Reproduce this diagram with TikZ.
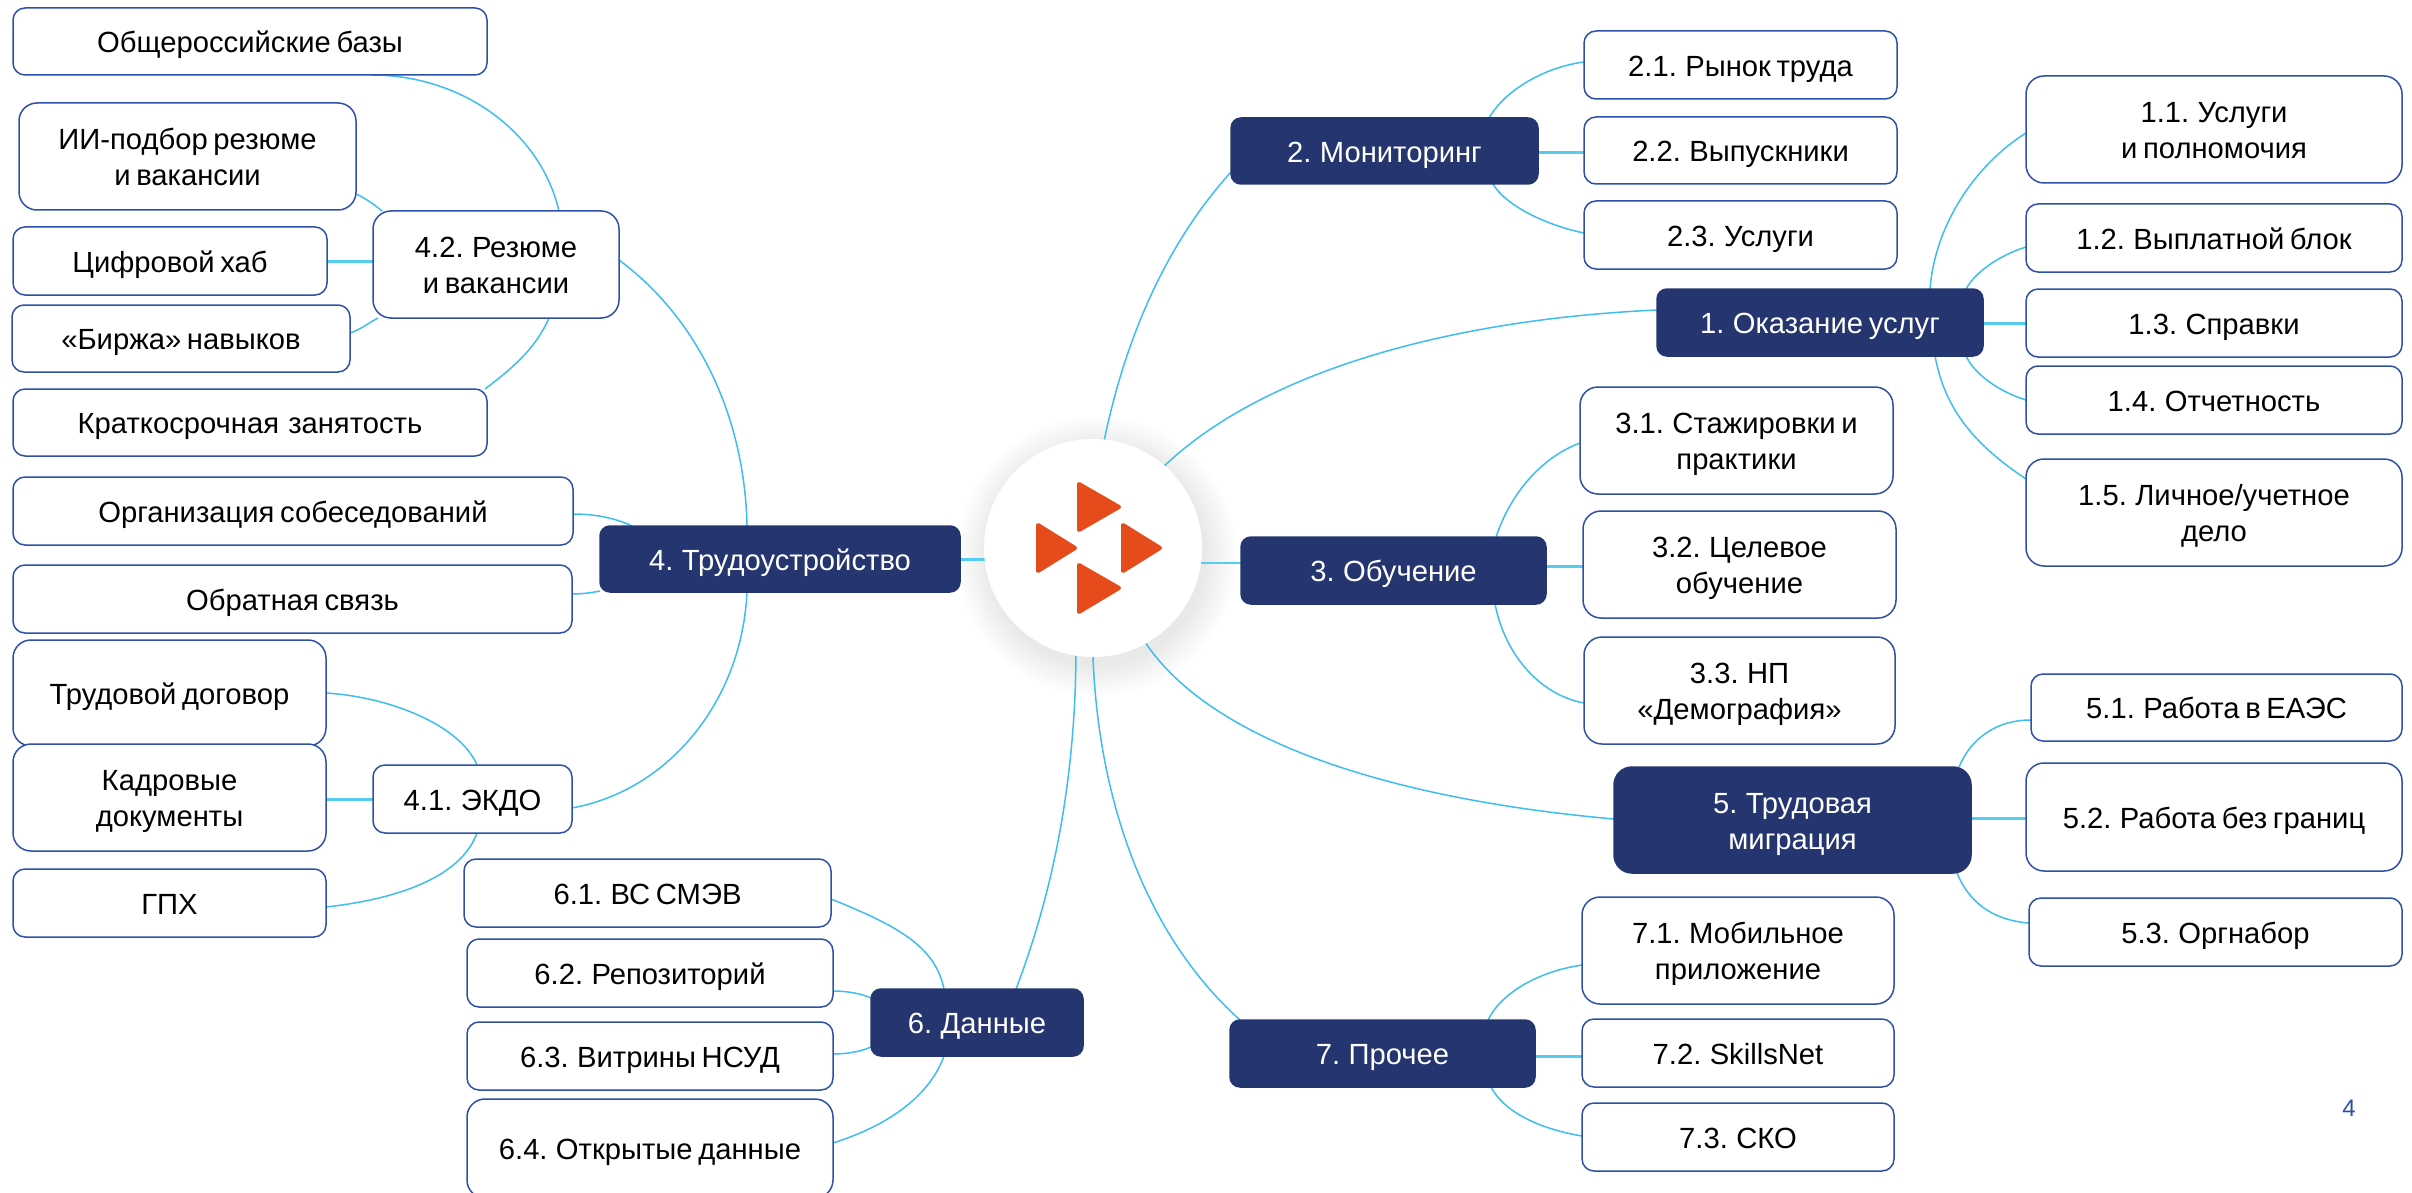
\documentclass[tikz,border=0pt]{standalone}
\usepackage{fontspec}
\setmainfont[WordSpace=0.7]{Liberation Sans}
\usetikzlibrary{backgrounds}
\definecolor{navy}{HTML}{25356F}
\definecolor{edgeblue}{HTML}{2E50A8}
\definecolor{linkblue}{HTML}{3DBDF0}
\definecolor{linkbar}{HTML}{55CDEE}
\definecolor{logored}{HTML}{E54B1B}
\newcommand\bx[7]{\node[#1,minimum width={(#5-#3)*1pt},minimum height={(#6-#4)*1pt}] (#2) at ({(#3+#5)/2},{(#4+#6)/2}) {#7};}
\newcommand\tl{\rule[-6.8pt]{0pt}{36pt}}
\tikzset{
  box/.style={draw=edgeblue,fill=white,line width=1.5pt,rounded corners=12pt,inner sep=0pt,outer sep=0pt,align=center,font=\fontsize{29.2}{36}\selectfont,text=black},
  bigbox/.style={box,rounded corners=18pt},
  dark/.style={box,draw=navy,fill=navy,text=white,rounded corners=10pt},
  bigdark/.style={dark,rounded corners=18pt},
  link/.style={draw=linkblue,line width=1.5pt},
  bar/.style={draw=linkbar,line width=3pt},
  logotri/.style={fill=logored,draw=logored,line width=4pt,line join=round},
}
\begin{document}
\begin{tikzpicture}[x=1pt,y=-1pt]
\useasboundingbox (0,0) rectangle (2412,1193);
\clip (0,0) rectangle (2412,1193);
% hub
\node[circle,fill=white,minimum size=218pt,inner sep=0pt,outer sep=0pt] (hub) at (1093,548) {};
\fill[logotri] (1079,484) -- (1119,507) -- (1079,530) -- cycle;
\fill[logotri] (1038,525) -- (1075,548) -- (1038,571) -- cycle;
\fill[logotri] (1123,525) -- (1160,548) -- (1123,571) -- cycle;
\fill[logotri] (1079,565) -- (1119,588) -- (1079,612) -- cycle;
% left side
\bx{box}{nBases}{13}{8}{487}{75}{\tl Общероссийские базы}
\bx{bigbox}{nAI}{19}{103}{356}{210}{\tl ИИ-подбор резюме\\\tl и вакансии}
\bx{box}{nHub}{13}{227}{327}{295}{\tl Цифровой хаб}
\bx{box}{nSkill}{12}{305}{350}{372}{\tl «Биржа» навыков}
\bx{box}{nShort}{13}{389}{487}{456}{\tl Краткосрочная\hspace{.12em} занятость}
\bx{box}{nInter}{13}{477}{573}{545}{\tl Организация собеседований}
\bx{box}{nFeed}{13}{565}{572}{633}{\tl Обратная связь}
\bx{bigbox}{nContract}{13}{640}{326}{746}{\tl Трудовой договор}
\bx{bigbox}{nDocs}{13}{744}{326}{851}{\tl Кадровые\\\tl документы}
\bx{box}{nGph}{13}{869}{326}{937}{\tl ГПХ}
\bx{bigbox}{n42}{373}{211}{619}{318}{\tl 4.2. Резюме\\\tl и вакансии}
\bx{box}{n41}{373}{765}{572}{833}{\tl 4.1. ЭКДО}
\bx{dark}{n4}{600}{526}{960}{592}{\tl 4. Трудоустройство}
\bx{box}{n61}{464}{859}{831}{927}{\tl 6.1. ВС СМЭВ}
\bx{box}{n62}{467}{939}{833}{1007}{\tl 6.2. Репозиторий}
\bx{box}{n63}{467}{1022}{833}{1090}{\tl 6.3. Витрины НСУД}
\bx{bigbox}{n64}{467}{1099}{833}{1198}{\tl 6.4. Открытые данные}
\bx{dark}{n6}{871}{989}{1083}{1056}{\tl 6. Данные}
% right side
\bx{dark}{n2}{1231}{118}{1538}{184}{\tl 2. Мониторинг}
\bx{box}{n21}{1584}{31}{1897}{99}{\tl 2.1. Рынок труда}
\bx{box}{n22}{1584}{117}{1897}{184}{\tl 2.2. Выпускники}
\bx{box}{n23}{1584}{201}{1897}{269}{\tl 2.3. Услуги}
\bx{dark}{n1}{1657}{289}{1983}{356}{\tl 1. Оказание услуг}
\bx{bigbox}{n11}{2026}{76}{2402}{183}{\tl 1.1. Услуги\\\tl и полномочия}
\bx{box}{n12}{2026}{204}{2402}{272}{\tl 1.2. Выплатной блок}
\bx{box}{n13}{2026}{289}{2402}{357}{\tl 1.3. Справки}
\bx{box}{n14}{2026}{366}{2402}{434}{\tl 1.4. Отчетность}
\bx{bigbox}{n15}{2026}{459}{2402}{566}{\tl 1.5. Личное/учетное\\\tl дело}
\bx{dark}{n3}{1241}{537}{1546}{604}{\tl 3. Обучение}
\bx{bigbox}{n31}{1580}{387}{1893}{494}{\tl 3.1. Стажировки и\\\tl практики}
\bx{bigbox}{n32}{1583}{511}{1896}{618}{\tl 3.2. Целевое\\\tl обучение}
\bx{bigbox}{n33}{1584}{637}{1895}{744}{\tl 3.3. НП\\\tl «Демография»}
\bx{bigdark}{n5}{1614}{767}{1971}{873}{\tl 5. Трудовая\\\tl миграция}
\bx{box}{n51}{2031}{674}{2402}{741}{\tl 5.1. Работа в ЕАЭС}
\bx{bigbox}{n52}{2026}{763}{2402}{871}{\tl 5.2. Работа без границ}
\bx{box}{n53}{2029}{898}{2402}{966}{\tl 5.3. Оргнабор}
\bx{dark}{n7}{1230}{1020}{1535}{1087}{\tl 7. Прочее}
\bx{bigbox}{n71}{1582}{897}{1894}{1004}{\tl 7.1. Мобильное\\\tl приложение}
\bx{box}{n72}{1582}{1019}{1894}{1087}{\tl 7.2. SkillsNet}
\bx{box}{n73}{1582}{1103}{1894}{1171}{\tl 7.3. СКО}
\node[text=edgeblue,font=\fontsize{24}{28}\selectfont,inner sep=0pt] (pageno) at (2349,1108) {4};
\begin{pgfonlayer}{background}
% soft shadow of the hub
\foreach \r in {140,137,...,108}
  \fill[black,opacity=0.009] (1097,556) circle (\r);
% hub to main branches
\draw[link] (hub.84) .. controls (1125,340) and (1165,245) .. (n2.west |- 0,172);
\draw[link] (hub.49) .. controls (1260,375) and (1440,320) .. (n1.west |- 0,310);
\draw[bar,line width=2.5pt] (hub.352) -- (hub.352 -| n3.west);
\draw[link] (hub.299) .. controls (1215,745) and (1400,800) .. (n5.west |- 0,819);
\draw[link] (hub.270) .. controls (1098,790) and (1140,930) .. (1240,0 |- n7.north);
\draw[link] (hub.261) .. controls (1075,790) and (1050,900) .. (1016,0 |- n6.north);
\draw[bar,line width=2.5pt] (hub.186) -- (hub.186 -| n4.east);
% 4
\draw[link] (747,0 |- n4.north) .. controls (745,420) and (700,320) .. (n42.east |- 0,260);
\draw[link] (747,0 |- n4.south) .. controls (742,700) and (670,790) .. (n41.east |- 0,808);
\draw[link] (632,0 |- n4.north) .. controls (615,518) and (595,514) .. (nInter.east |- 0,514);
\draw[link] (n4.west |- 0,591) .. controls (595,592) and (585,594) .. (nFeed.east |- 0,594);
% 4.2
\draw[link] (559,0 |- n42.north) .. controls (540,130) and (460,75) .. (372,0 |- nBases.south);
\draw[link] (382,0 |- n42.north) .. controls (375,205) and (365,198) .. (nAI.east |- 0,194);
\draw[bar] (n42.west |- 0,261) -- (nHub.east |- 0,261);
\draw[link] (378,0 |- n42.south) .. controls (370,322) and (360,330) .. (nSkill.east |- 0,333);
\draw[link] (549,0 |- n42.south) .. controls (535,350) and (510,370) .. (485,0 |- nShort.north);
% 4.1
\draw[link] (477,0 |- n41.north) .. controls (460,725) and (390,697) .. (nContract.east |- 0,693);
\draw[bar] (n41.west |- 0,799) -- (nDocs.east |- 0,799);
\draw[link] (477,0 |- n41.south) .. controls (460,880) and (390,900) .. (nGph.east |- 0,907);
% 6
\draw[link] (944,0 |- n6.north) .. controls (935,945) and (895,925) .. (n61.east |- 0,899);
\draw[link] (n6.west |- 0,998) .. controls (860,993) and (845,991) .. (n62.east |- 0,991);
\draw[link] (n6.west |- 0,1047) .. controls (860,1052) and (845,1054) .. (n63.east |- 0,1054);
\draw[link] (944,0 |- n6.south) .. controls (930,1095) and (890,1125) .. (n64.east |- 0,1143);
% 2
\draw[link] (1489,0 |- n2.north) .. controls (1505,90) and (1545,67) .. (n21.west |- 0,62);
\draw[bar] (n2.east |- 0,153) -- (n22.west |- 0,153);
\draw[link] (1493,0 |- n2.south) .. controls (1505,205) and (1545,225) .. (n23.west |- 0,233);
% 1
\draw[link] (1930,0 |- n1.north) .. controls (1935,225) and (1975,165) .. (n11.west |- 0,133);
\draw[link] (1966,0 |- n1.north) .. controls (1975,272) and (2000,255) .. (n12.west |- 0,247);
\draw[bar] (n1.east |- 0,323) -- (n13.west |- 0,323);
\draw[link] (1966,0 |- n1.south) .. controls (1975,375) and (2000,392) .. (n14.west |- 0,400);
\draw[link] (1935,0 |- n1.south) .. controls (1945,410) and (1975,445) .. (n15.west |- 0,479);
% 3
\draw[link] (1496,0 |- n3.north) .. controls (1510,495) and (1540,458) .. (n31.west |- 0,443);
\draw[bar] (n3.east |- 0,566) -- (n32.west |- 0,566);
\draw[link] (1495,0 |- n3.south) .. controls (1505,655) and (1540,695) .. (n33.west |- 0,703);
% 5
\draw[link] (1959,0 |- n5.north) .. controls (1970,740) and (1995,720) .. (n51.west |- 0,720);
\draw[bar] (n5.east |- 0,818) -- (n52.west |- 0,818);
\draw[link] (1957,0 |- n5.south) .. controls (1968,900) and (1990,920) .. (n53.west |- 0,923);
% 7
\draw[link] (1488,0 |- n7.north) .. controls (1500,995) and (1535,972) .. (n71.west |- 0,965);
\draw[bar] (n7.east |- 0,1056) -- (n72.west |- 0,1056);
\draw[link] (1491,0 |- n7.south) .. controls (1503,1110) and (1535,1128) .. (n73.west |- 0,1136);
\end{pgfonlayer}
\end{tikzpicture}
\end{document}
